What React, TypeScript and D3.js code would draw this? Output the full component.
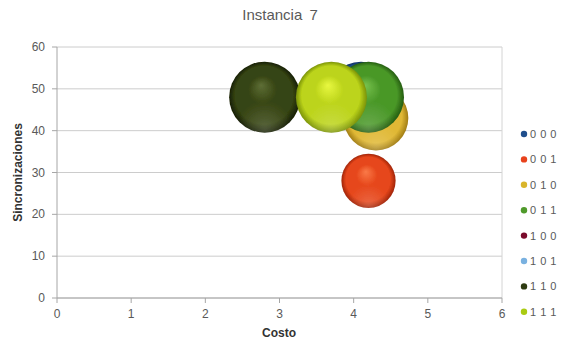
import React from "react";
import * as d3 from "d3";

const seriesNames = ["0 0 0", "0 0 1", "0 1 0", "0 1 1", "1 0 0", "1 0 1", "1 1 0", "1 1 1"];
const seriesColors = ["#1f4e8c", "#e8421c", "#d9b52c", "#4f9a2b", "#7a0b2c", "#79b1e0", "#2f3b11", "#aacb12"];
// sphere shading per series: [highlight, base, rim]
const sphereShades = [
  ["#4a7ec8", "#1f5aa0", "#0e2f60"],
  ["#fa7a48", "#e6461a", "#a02408"],
  ["#f2d468", "#e0b834", "#a07c14"],
  ["#78c24e", "#4a9828", "#245c10"],
  ["#b04a60", "#7a0b2c", "#40040f"],
  ["#b0d4f4", "#79b1e0", "#3c78b0"],
  ["#5e6e36", "#364412", "#161e04"],
  ["#e8f840", "#bcd41a", "#7a9206"],
];
// bubble data per series: cost (x), synchronisations (y), bubble size
const costValues = [[4.1], [4.2], [4.3], [4.2], [], [], [2.8], [3.7]];
const syncValues = [[48], [28], [43], [48], [], [], [48], [48]];
const sizeValues = [[12], [7], [10], [12], [], [], [12], [12]];
const xTicks = [0, 1, 2, 3, 4, 5, 6];
const yTicks = [0, 10, 20, 30, 40, 50, 60];

const W = 561;
const H = 343;
const plot = { left: 57, right: 502, top: 47, bottom: 298 };

export default function App() {
  const x = d3.scaleLinear().domain([0, 6]).range([plot.left, plot.right]);
  const y = d3.scaleLinear().domain([0, 60]).range([plot.bottom, plot.top]);
  const r = d3.scaleSqrt().domain([0, 12]).range([0, 35.5]);
  const font = "'Liberation Sans', Arial, sans-serif";
  const textColor = "#595959";

  const points = seriesNames.flatMap((name, si) =>
    costValues[si].map((c, i) => ({ si, cx: x(c), cy: y(syncValues[si][i]), rr: r(sizeValues[si][i]) }))
  );

  return (
    <svg width={W} height={H} style={{ position: "absolute", left: 0, top: 0, background: "#fff" }} fontFamily={font}>
      <defs>
        {sphereShades.map((s, i) => (
          <radialGradient key={i} id={`sph${i}`} cx="0.5" cy="0.5" r="0.5" fx="0.45" fy="0.33">
            <stop offset="0%" stopColor={s[0]} />
            <stop offset="40%" stopColor={s[1]} />
            <stop offset="82%" stopColor={s[1]} />
            <stop offset="100%" stopColor={s[2]} />
          </radialGradient>
        ))}
        <radialGradient id="glow" cx="0.5" cy="0.95" r="0.4">
          <stop offset="0%" stopColor="#fff" stopOpacity="0.18" />
          <stop offset="100%" stopColor="#fff" stopOpacity="0" />
        </radialGradient>
        <filter id="soft" x="-10%" y="-10%" width="120%" height="120%">
          <feGaussianBlur stdDeviation="0.6" />
        </filter>
      </defs>

      <text x={280} y={20} textAnchor="middle" fontSize={15} fill={textColor} wordSpacing={3}>
        Instancia 7
      </text>

      {/* gridlines */}
      {yTicks.map((t) => (
        <line key={t} x1={plot.left} x2={plot.right} y1={y(t)} y2={y(t)} stroke="#cccccc" strokeWidth={1} />
      ))}
      <line x1={plot.right} x2={plot.right} y1={plot.top} y2={plot.bottom} stroke="#d4d4d4" />

      {/* axes */}
      <line x1={plot.left} x2={plot.left} y1={plot.top} y2={plot.bottom} stroke="#a6a6a6" />
      <line x1={plot.left} x2={plot.right} y1={plot.bottom} y2={plot.bottom} stroke="#a6a6a6" />
      {yTicks.map((t) => (
        <g key={t}>
          <line x1={plot.left - 5} x2={plot.left} y1={y(t)} y2={y(t)} stroke="#a6a6a6" />
          <text x={plot.left - 12} y={y(t) + 4} textAnchor="end" fontSize={12} fill={textColor}>
            {t}
          </text>
        </g>
      ))}
      {xTicks.map((t) => (
        <g key={t}>
          <line x1={x(t)} x2={x(t)} y1={plot.bottom} y2={plot.bottom + 5} stroke="#a6a6a6" />
          <text x={x(t)} y={plot.bottom + 20} textAnchor="middle" fontSize={12} fill={textColor}>
            {t}
          </text>
        </g>
      ))}
      <text x={279} y={337} textAnchor="middle" fontSize={12} fontWeight="bold" fill="#333">
        Costo
      </text>
      <text transform={`translate(22,${(plot.top + plot.bottom) / 2}) rotate(-90)`} textAnchor="middle" fontSize={12} fontWeight="bold" fill="#333">
        Sincronizaciones
      </text>

      {/* bubbles */}
      <g filter="url(#soft)">
        {points.map((p, i) => (
          <g key={i}>
            <circle cx={p.cx} cy={p.cy} r={p.rr} fill={`url(#sph${p.si})`} />
            <circle cx={p.cx} cy={p.cy} r={p.rr} fill="url(#glow)" />
          </g>
        ))}
      </g>

      {/* legend */}
      {seriesNames.map((n, i) => (
        <g key={n} transform={`translate(524,${134 + i * 25.4})`}>
          <circle cx={0} cy={0} r={3.2} fill={seriesColors[i]} />
          <text x={6} y={4} fontSize={11} fill={textColor} letterSpacing={0.5}>
            {n}
          </text>
        </g>
      ))}
    </svg>
  );
}
